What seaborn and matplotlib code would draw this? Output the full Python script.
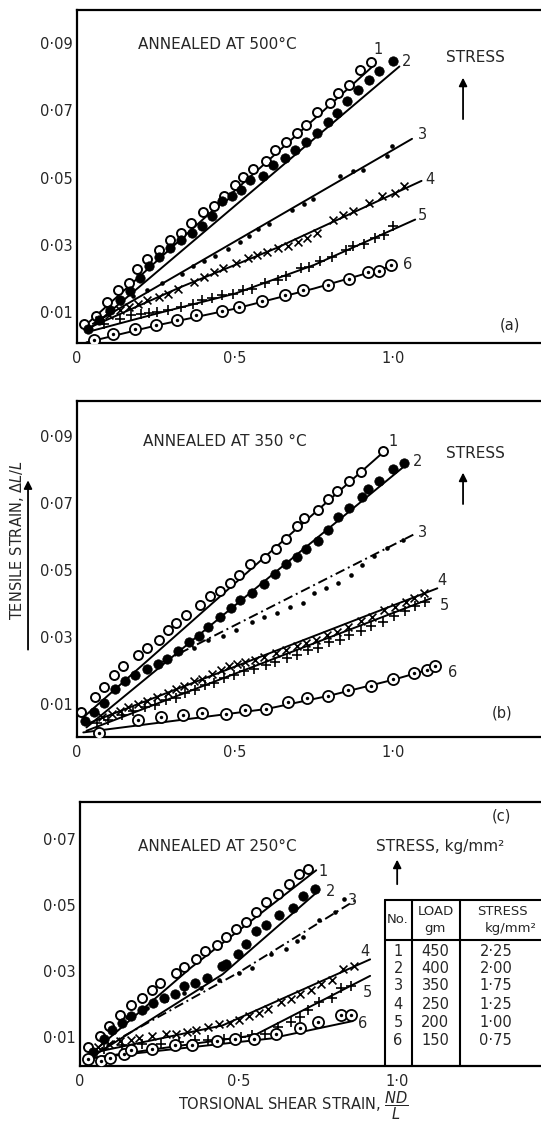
import matplotlib
matplotlib.use("Agg")
import matplotlib.pyplot as plt
import seaborn as sns

# ---------------- data ----------------
# panel (a) annealed at 500 C
a1_x = [0.023, 0.060, 0.096, 0.131, 0.166, 0.189, 0.223, 0.258, 0.294, 0.329, 0.360, 0.398, 0.434, 0.465,
        0.500, 0.526, 0.556, 0.598, 0.627, 0.661, 0.695, 0.725, 0.758, 0.799, 0.827, 0.859, 0.896, 0.929]
a1_y = [0.0065, 0.0089, 0.0129, 0.0165, 0.0187, 0.0228, 0.0258, 0.0284, 0.0313, 0.0335, 0.0365, 0.0398, 0.0414,
        0.0444, 0.0478, 0.0502, 0.0525, 0.0548, 0.0583, 0.0605, 0.0632, 0.0657, 0.0694, 0.0720, 0.0751, 0.0776,
        0.0819, 0.0844]
a2_x = [0.035, 0.070, 0.104, 0.136, 0.168, 0.199, 0.229, 0.261, 0.294, 0.328, 0.363, 0.395, 0.426, 0.458, 0.489,
        0.518, 0.547, 0.588, 0.621, 0.658, 0.690, 0.725, 0.758, 0.795, 0.824, 0.853, 0.890, 0.925, 0.954, 1.001]
a2_y = [0.0050, 0.0075, 0.0107, 0.0137, 0.0162, 0.0201, 0.0236, 0.0264, 0.0291, 0.0315, 0.0335, 0.0357, 0.0385,
        0.0429, 0.0444, 0.0464, 0.0492, 0.0504, 0.0538, 0.0558, 0.0583, 0.0605, 0.0632, 0.0664, 0.0692, 0.0727,
        0.0759, 0.0791, 0.0816, 0.0847]
a3_x = [0.100, 0.140, 0.178, 0.220, 0.268, 0.331, 0.368, 0.402, 0.437, 0.479, 0.516, 0.545, 0.574, 0.609, 0.679,
        0.718, 0.748, 0.832, 0.874, 0.906, 0.980, 0.996]
a3_y = [0.0105, 0.0128, 0.0147, 0.0167, 0.0187, 0.0214, 0.0236, 0.0251, 0.0268, 0.0288, 0.0307, 0.0325, 0.0347,
        0.0363, 0.0403, 0.0422, 0.0436, 0.0504, 0.0519, 0.0523, 0.0563, 0.0593]
a4_x = [0.070, 0.100, 0.135, 0.166, 0.192, 0.222, 0.258, 0.289, 0.320, 0.371, 0.401, 0.432, 0.463, 0.504, 0.540,
        0.570, 0.601, 0.637, 0.668, 0.698, 0.729, 0.760, 0.811, 0.842, 0.872, 0.923, 0.964, 1.005, 1.036]
a4_y = [0.0075, 0.0090, 0.0105, 0.0115, 0.0123, 0.0135, 0.0145, 0.0155, 0.0170, 0.0190, 0.0205, 0.0220, 0.0230,
        0.0247, 0.0260, 0.0270, 0.0280, 0.0290, 0.0297, 0.0307, 0.0320, 0.0335, 0.0375, 0.0390, 0.0400, 0.0425,
        0.0445, 0.0455, 0.0475]
a5_x = [0.084, 0.135, 0.171, 0.202, 0.227, 0.253, 0.289, 0.330, 0.366, 0.396, 0.427, 0.458, 0.494, 0.524, 0.555,
        0.596, 0.637, 0.662, 0.709, 0.734, 0.770, 0.806, 0.852, 0.872, 0.908, 0.944, 0.970, 1.000]
a5_y = [0.0065, 0.0080, 0.0090, 0.0095, 0.0097, 0.0100, 0.0105, 0.0115, 0.0125, 0.0137, 0.0143, 0.0150, 0.0155,
        0.0165, 0.0170, 0.0185, 0.0195, 0.0207, 0.0230, 0.0233, 0.0252, 0.0263, 0.0285, 0.0295, 0.0303, 0.0320,
        0.0330, 0.0355]
a6_x = [0.054, 0.113, 0.185, 0.250, 0.318, 0.377, 0.458, 0.514, 0.584, 0.657, 0.714, 0.793, 0.860, 0.921, 0.954, 0.995]
a6_y = [0.0017, 0.0035, 0.0050, 0.0062, 0.0077, 0.0092, 0.0102, 0.0115, 0.0133, 0.0150, 0.0165, 0.0180, 0.0197,
        0.0219, 0.0223, 0.0240]

# panel (b) annealed at 350 C
b1_x = [0.014, 0.057, 0.085, 0.116, 0.146, 0.192, 0.223, 0.258, 0.289, 0.314, 0.345, 0.388, 0.421, 0.453, 0.484,
        0.512, 0.548, 0.595, 0.630, 0.661, 0.695, 0.718, 0.764, 0.795, 0.824, 0.859, 0.898, 0.969]
b1_y = [0.0075, 0.0120, 0.0152, 0.0185, 0.0212, 0.0245, 0.0268, 0.0292, 0.0320, 0.0342, 0.0365, 0.0395, 0.0422,
        0.0438, 0.0462, 0.0485, 0.0518, 0.0536, 0.0563, 0.0593, 0.0630, 0.0654, 0.0679, 0.0711, 0.0736, 0.0765,
        0.0792, 0.0854]
b2_x = [0.024, 0.055, 0.085, 0.121, 0.151, 0.185, 0.220, 0.256, 0.284, 0.319, 0.355, 0.385, 0.416, 0.451, 0.487,
        0.517, 0.553, 0.591, 0.627, 0.661, 0.695, 0.725, 0.764, 0.795, 0.827, 0.859, 0.901, 0.922, 0.954, 1.001, 1.033]
b2_y = [0.0050, 0.0075, 0.0102, 0.0145, 0.0168, 0.0185, 0.0205, 0.0220, 0.0235, 0.0258, 0.0285, 0.0302, 0.0330,
        0.0358, 0.0385, 0.0410, 0.0432, 0.0458, 0.0489, 0.0519, 0.0539, 0.0563, 0.0585, 0.0620, 0.0657, 0.0686,
        0.0716, 0.0740, 0.0765, 0.0800, 0.0819]
b3_x = [0.319, 0.370, 0.416, 0.461, 0.502, 0.553, 0.593, 0.634, 0.675, 0.715, 0.751, 0.787, 0.827, 0.868, 0.903,
        0.940, 0.980, 1.030]
b3_y = [0.0260, 0.0268, 0.0290, 0.0302, 0.0320, 0.0345, 0.0358, 0.0370, 0.0390, 0.0402, 0.0430, 0.0445, 0.0460,
        0.0485, 0.0515, 0.0540, 0.0565, 0.0590]
b4_x = [0.080, 0.111, 0.136, 0.162, 0.192, 0.223, 0.253, 0.289, 0.314, 0.339, 0.370, 0.395, 0.426, 0.456, 0.482,
        0.507, 0.533, 0.563, 0.593, 0.629, 0.660, 0.695, 0.726, 0.756, 0.792, 0.822, 0.858, 0.898, 0.934, 0.970,
        1.005, 1.041, 1.066, 1.097]
b4_y = [0.0060, 0.0070, 0.0080, 0.0090, 0.0100, 0.0110, 0.0122, 0.0132, 0.0145, 0.0155, 0.0168, 0.0175, 0.0190,
        0.0200, 0.0212, 0.0220, 0.0225, 0.0232, 0.0240, 0.0252, 0.0262, 0.0272, 0.0282, 0.0292, 0.0305, 0.0315,
        0.0330, 0.0348, 0.0360, 0.0380, 0.0390, 0.0405, 0.0415, 0.0430]
b5_x = [0.062, 0.098, 0.143, 0.178, 0.214, 0.247, 0.283, 0.312, 0.343, 0.372, 0.404, 0.433, 0.466, 0.497, 0.528,
        0.561, 0.598, 0.628, 0.663, 0.697, 0.731, 0.762, 0.798, 0.833, 0.862, 0.897, 0.931, 0.968, 1.003, 1.037,
        1.068, 1.101]
b5_y = [0.0042, 0.0053, 0.0068, 0.0078, 0.0090, 0.0098, 0.0112, 0.0118, 0.0134, 0.0143, 0.0157, 0.0163, 0.0178,
        0.0186, 0.0199, 0.0204, 0.0217, 0.0224, 0.0237, 0.0246, 0.0260, 0.0266, 0.0284, 0.0291, 0.0307, 0.0318,
        0.0334, 0.0345, 0.0362, 0.0376, 0.0392, 0.0403]
b6_x = [0.070, 0.192, 0.266, 0.334, 0.395, 0.470, 0.533, 0.599, 0.667, 0.729, 0.794, 0.856, 0.929, 1.000, 1.066,
        1.107, 1.132]
b6_y = [0.0012, 0.0052, 0.0060, 0.0068, 0.0072, 0.0070, 0.0082, 0.0085, 0.0105, 0.0117, 0.0125, 0.0142, 0.0155,
        0.0175, 0.0192, 0.0200, 0.0212]

# panel (c) annealed at 250 C
c1_x = [0.026, 0.063, 0.093, 0.127, 0.162, 0.194, 0.227, 0.252, 0.304, 0.327, 0.367, 0.393, 0.431, 0.461, 0.493,
        0.523, 0.555, 0.588, 0.623, 0.659, 0.692, 0.719]
c1_y = [0.0069, 0.0102, 0.0133, 0.0167, 0.0197, 0.0218, 0.0243, 0.0262, 0.0293, 0.0313, 0.0336, 0.0361, 0.0379,
        0.0403, 0.0428, 0.0449, 0.0480, 0.0510, 0.0533, 0.0562, 0.0594, 0.0608]
c2_x = [0.041, 0.076, 0.101, 0.132, 0.162, 0.197, 0.230, 0.264, 0.300, 0.327, 0.364, 0.401, 0.448, 0.461, 0.498,
        0.523, 0.555, 0.588, 0.628, 0.672, 0.702, 0.742]
c2_y = [0.0054, 0.0095, 0.0120, 0.0141, 0.0163, 0.0182, 0.0202, 0.0218, 0.0231, 0.0254, 0.0262, 0.0279, 0.0315,
        0.0320, 0.0351, 0.0382, 0.0420, 0.0438, 0.0469, 0.0490, 0.0526, 0.0549]
c3_x = [0.147, 0.212, 0.272, 0.327, 0.383, 0.438, 0.503, 0.543, 0.603, 0.649, 0.684, 0.704, 0.754, 0.804, 0.834]
c3_y = [0.0161, 0.0187, 0.0213, 0.0233, 0.0249, 0.0274, 0.0295, 0.0310, 0.0351, 0.0367, 0.0392, 0.0403, 0.0454,
        0.0479, 0.0518]
c4_x = [0.056, 0.091, 0.127, 0.162, 0.187, 0.227, 0.272, 0.302, 0.337, 0.367, 0.403, 0.438, 0.473, 0.503, 0.533,
        0.563, 0.593, 0.634, 0.664, 0.694, 0.729, 0.759, 0.794, 0.829, 0.864]
c4_y = [0.0069, 0.0079, 0.0088, 0.0092, 0.0098, 0.0102, 0.0110, 0.0110, 0.0115, 0.0122, 0.0129, 0.0139, 0.0143,
        0.0151, 0.0163, 0.0172, 0.0184, 0.0205, 0.0215, 0.0231, 0.0243, 0.0259, 0.0274, 0.0305, 0.0315]
c5_x = [0.076, 0.132, 0.197, 0.257, 0.312, 0.362, 0.403, 0.453, 0.508, 0.543, 0.583, 0.623, 0.664, 0.694, 0.719,
        0.754, 0.794, 0.824, 0.854]
c5_y = [0.0064, 0.0074, 0.0079, 0.0079, 0.0084, 0.0090, 0.0092, 0.0095, 0.0100, 0.0105, 0.0110, 0.0131, 0.0146,
        0.0161, 0.0182, 0.0205, 0.0218, 0.0249, 0.0254]
c6_x = [0.026, 0.066, 0.096, 0.140, 0.162, 0.227, 0.300, 0.354, 0.431, 0.488, 0.548, 0.618, 0.694, 0.752, 0.822, 0.854]
c6_y = [0.0033, 0.0026, 0.0036, 0.0049, 0.0059, 0.0064, 0.0077, 0.0074, 0.0088, 0.0095, 0.0095, 0.0110, 0.0126,
        0.0146, 0.0167, 0.0167]

# hand-drawn fit lines (vertices)
a_fits = [([0.02, 0.935], [0.0055, 0.083]),
          ([0.04, 1.02], [0.005, 0.083]),
          ([0.05, 1.06], [0.0065, 0.0615]),
          ([0.03, 0.33, 0.63, 1.09], [0.005, 0.0175, 0.029, 0.049]),
          ([0.03, 0.25, 0.5, 0.75, 1.07], [0.004, 0.0095, 0.0155, 0.024, 0.0375]),
          ([0.03, 0.25, 0.5, 0.75, 1.0], [0.001, 0.006, 0.011, 0.017, 0.0238])]
b_fits = [([0.02, 0.97], [0.006, 0.0852]),
          ([0.03, 1.03], [0.003, 0.0805]),
          ([0.27, 1.064], [0.0225, 0.0605]),
          ([0.03, 1.14], [0.004, 0.0445]),
          ([0.03, 1.12], [0.002, 0.0415]),
          ([0.02, 0.6, 0.8, 1.0, 1.14], [0.0015, 0.0085, 0.0125, 0.0172, 0.021])]
c_fits = [([0.03, 0.35, 0.745], [0.0045, 0.031, 0.0605]),
          ([0.03, 0.45, 0.755], [0.0035, 0.029, 0.0545]),
          ([0.03, 0.5, 0.87], [0.0045, 0.0295, 0.0515]),
          ([0.03, 0.45, 0.915], [0.005, 0.0135, 0.0335]),
          ([0.03, 0.55, 0.915], [0.0035, 0.0105, 0.0285]),
          ([0.03, 0.6, 0.86], [0.0035, 0.0095, 0.0148])]

nums = ["1", "2", "3", "4", "5", "6"]
loads = ["450", "400", "350", "250", "200", "150"]
stresses = ["2·25", "2·00", "1·75", "1·25", "1·00", "0·75"]

sns.set_style("white")
plt.rcParams["font.family"] = ["DejaVu Sans"]
plt.rcParams["mathtext.fontset"] = "dejavusans"

DASHDOT = (0, (5, 2, 1, 2))


def plot_series(ax, num, xs, ys, fit, ls="-"):
    fx, fy = fit
    sns.lineplot(x=fx, y=fy, ax=ax, color="black", lw=1.4, linestyle=ls,
                 estimator=None, sort=False, zorder=2)
    if num == 1:
        sns.scatterplot(x=xs, y=ys, ax=ax, marker="o", s=42, facecolor="white",
                        edgecolor="black", linewidth=1.4, zorder=3)
    elif num == 2:
        sns.scatterplot(x=xs, y=ys, ax=ax, marker="o", s=46, color="black",
                        edgecolor="black", linewidth=0.5, zorder=3)
    elif num == 3:
        sns.scatterplot(x=xs, y=ys, ax=ax, marker="o", s=11, color="black",
                        linewidth=0, zorder=3)
    elif num == 4:
        sns.scatterplot(x=xs, y=ys, ax=ax, marker="x", s=32, color="black",
                        linewidth=1.2, zorder=3)
    elif num == 5:
        sns.scatterplot(x=xs, y=ys, ax=ax, marker="+", s=52, color="black",
                        linewidth=1.2, zorder=3)
    else:
        sns.scatterplot(x=xs, y=ys, ax=ax, marker="o", s=64, facecolor="white",
                        edgecolor="black", linewidth=1.3, zorder=3)
        sns.scatterplot(x=xs, y=ys, ax=ax, marker="o", s=6, color="black",
                        linewidth=0, zorder=4)


def style_axis(ax, yticks, xmax, ylim):
    ax.set_xlim(0, xmax)
    ax.set_ylim(*ylim)
    ax.set_xticks([0, 0.25, 0.5, 0.75, 1.0])
    ax.set_xticklabels(["0", "", "0·5", "", "1·0"])
    ax.set_yticks(yticks)
    ax.set_yticklabels([f"{v:.2f}".replace(".", "·") for v in yticks])
    ax.tick_params(direction="in", length=7, width=1.4, labelsize=10.5, color="black")
    ax.tick_params(axis="x", pad=6)
    ax.tick_params(axis="y", pad=3)
    ax.spines["right"].set_visible(False)
    for s in ["left", "bottom", "top"]:
        ax.spines[s].set_linewidth(1.6)
        ax.spines[s].set_color("black")
    ax.set_xlabel("")
    ax.set_ylabel("")


def stress_arrow(ax, x, y0, y1):
    ax.annotate("", xy=(x, y1), xytext=(x, y0), xycoords="axes fraction",
                arrowprops=dict(arrowstyle="-|>", color="black", lw=1.3, mutation_scale=12))


fig = plt.figure(figsize=(5.41, 11.21), dpi=100)
ax_a = fig.add_axes([0.1423, 0.6940, 0.8577, 0.2971])
ax_b = fig.add_axes([0.1423, 0.3426, 0.8577, 0.2997])
ax_c = fig.add_axes([0.1479, 0.0491, 0.8521, 0.2355])

panels = [
    (ax_a, [(a1_x, a1_y), (a2_x, a2_y), (a3_x, a3_y), (a4_x, a4_y), (a5_x, a5_y), (a6_x, a6_y)], a_fits,
     ["-", "-", "-", "-", "-", "-"]),
    (ax_b, [(b1_x, b1_y), (b2_x, b2_y), (b3_x, b3_y), (b4_x, b4_y), (b5_x, b5_y), (b6_x, b6_y)], b_fits,
     ["-", "-", DASHDOT, "-", "-", "-"]),
    (ax_c, [(c1_x, c1_y), (c2_x, c2_y), (c3_x, c3_y), (c4_x, c4_y), (c5_x, c5_y), (c6_x, c6_y)], c_fits,
     ["-", "-", DASHDOT, "-", "-", "-"]),
]
for ax, series, fits, styles in panels:
    for i, ((xs, ys), fit, ls) in enumerate(zip(series, fits, styles)):
        plot_series(ax, i + 1, xs, ys, fit, ls)

style_axis(ax_a, [0.01, 0.03, 0.05, 0.07, 0.09], 1.468, (0.0008, 0.0998))
style_axis(ax_b, [0.01, 0.03, 0.05, 0.07, 0.09], 1.468, (0.00015, 0.1004))
style_axis(ax_c, [0.01, 0.03, 0.05, 0.07], 1.454, (0.0012, 0.0812))

# curve numbers (data coords)
a_lab = [(0.953, 0.0880), (1.044, 0.0845), (1.092, 0.0627), (1.117, 0.0494), (1.092, 0.0387), (1.047, 0.0240)]
b_lab = [(1.000, 0.0882), (1.076, 0.0822), (1.092, 0.0613), (1.155, 0.0469), (1.161, 0.0394), (1.187, 0.0193)]
c_lab = [(0.767, 0.0600), (0.789, 0.0540), (0.861, 0.0512), (0.899, 0.0358), (0.905, 0.0236), (0.890, 0.0142)]
for ax, labs in [(ax_a, a_lab), (ax_b, b_lab), (ax_c, c_lab)]:
    for n, (x, y) in zip(nums, labs):
        ax.text(x, y, n, fontsize=10.5, ha="center", va="center")

# titles, stress arrows, panel letters
ax_a.text(0.131, 0.895, "ANNEALED AT 500°C", transform=ax_a.transAxes, fontsize=11, va="center")
ax_b.text(0.142, 0.878, "ANNEALED AT 350 °C", transform=ax_b.transAxes, fontsize=11, va="center")
ax_c.text(0.126, 0.830, "ANNEALED AT 250°C", transform=ax_c.transAxes, fontsize=11, va="center")

ax_a.text(0.858, 0.856, "STRESS", transform=ax_a.transAxes, fontsize=11, ha="center", va="center")
ax_b.text(0.858, 0.845, "STRESS", transform=ax_b.transAxes, fontsize=11, ha="center", va="center")
ax_c.text(0.781, 0.830, "STRESS, kg/mm²", transform=ax_c.transAxes, fontsize=11, ha="center", va="center")
stress_arrow(ax_a, 0.832, 0.664, 0.805)
stress_arrow(ax_b, 0.832, 0.685, 0.795)
stress_arrow(ax_c, 0.688, 0.678, 0.792)

ax_a.text(0.933, 0.054, "(a)", transform=ax_a.transAxes, fontsize=10.5, ha="center", va="center")
ax_b.text(0.916, 0.071, "(b)", transform=ax_b.transAxes, fontsize=10.5, ha="center", va="center")
ax_c.text(0.915, 0.947, "(c)", transform=ax_c.transAxes, fontsize=10.5, ha="center", va="center")

# legend table inside panel (c)
tk = dict(transform=ax_c.transAxes, color="black", lw=1.5, clip_on=False)
ax_c.plot([0.662, 1.0], [0.629, 0.629], **tk)
ax_c.plot([0.662, 1.0], [0.477, 0.477], **tk)
for xv in [0.662, 0.720, 0.824]:
    ax_c.plot([xv, xv], [0.0, 0.629], **tk)
ax_c.text(0.690, 0.553, "No.", transform=ax_c.transAxes, fontsize=9.5, ha="center", va="center")
ax_c.text(0.771, 0.585, "LOAD", transform=ax_c.transAxes, fontsize=9.5, ha="center", va="center")
ax_c.text(0.771, 0.520, "gm", transform=ax_c.transAxes, fontsize=9.5, ha="center", va="center")
ax_c.text(0.862, 0.585, "STRESS", transform=ax_c.transAxes, fontsize=9.5, ha="left", va="center")
ax_c.text(0.877, 0.520, "kg/mm²", transform=ax_c.transAxes, fontsize=9.5, ha="left", va="center")
row_y = [0.432, 0.371, 0.303, 0.231, 0.163, 0.095]
for n, ld, st, y in zip(nums, loads, stresses, row_y):
    ax_c.text(0.690, y, n, transform=ax_c.transAxes, fontsize=10.5, ha="center", va="center")
    ax_c.text(0.771, y, ld, transform=ax_c.transAxes, fontsize=10.5, ha="center", va="center")
    ax_c.text(0.902, y, st, transform=ax_c.transAxes, fontsize=10.5, ha="center", va="center")

# axis labels
fig.text(0.031, 0.518, "TENSILE STRAIN, $\\Delta L/L$", rotation=90, fontsize=10.5,
         ha="center", va="center")
ax_b.annotate("", xy=(0.0518, 0.574), xytext=(0.0518, 0.418), xycoords="figure fraction",
              arrowprops=dict(arrowstyle="-|>", color="black", lw=1.3, mutation_scale=12),
              annotation_clip=False)
fig.text(0.5416, 0.0098, "TORSIONAL SHEAR STRAIN, $\\dfrac{ND}{L}$", fontsize=10.5,
         ha="center", va="baseline")

fig.savefig("out.png", dpi=100)
